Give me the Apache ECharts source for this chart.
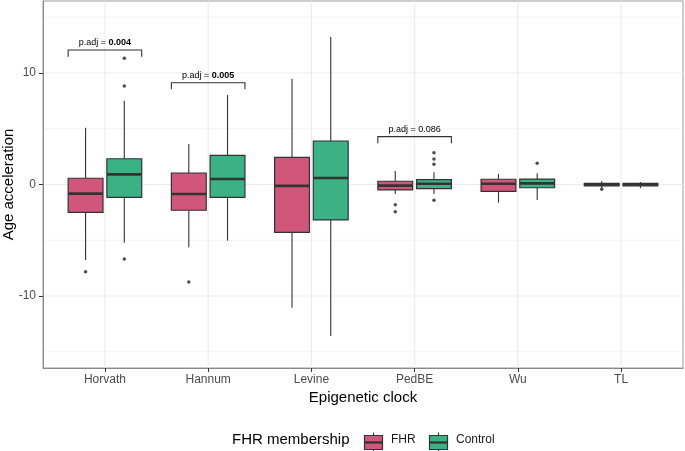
<!DOCTYPE html>
<html><head><meta charset="utf-8">
<script src="https://cdn.jsdelivr.net/npm/echarts@6/dist/echarts.min.js"></script>
<style>html,body{margin:0;padding:0;background:#fff}#c{width:685px;height:451px}</style>
</head><body><div id="c"></div>
<script>
// Categories
const clocks = ['Horvath', 'Hannum', 'Levine', 'PedBE', 'Wu', 'TL'];
// Box stats per clock: [lower whisker, Q1, median, Q3, upper whisker]
const fhrBoxes = [
  [-6.77, -2.50, -0.82, 0.56, 5.09],
  [-5.63, -2.31, -0.85, 1.03, 3.63],
  [-11.05, -4.29, -0.12, 2.44, 9.49],
  [-0.85, -0.49, -0.10, 0.29, 1.21],
  [-1.63, -0.61, 0.07, 0.47, 0.94],
  [-0.34, -0.12, 0.00, 0.10, 0.31]
];
const controlBoxes = [
  [-5.22, -1.15, 0.91, 2.31, 7.52],
  [-5.04, -1.15, 0.49, 2.62, 8.03],
  [-13.59, -3.18, 0.58, 3.90, 13.23],
  [-0.85, -0.37, 0.07, 0.43, 1.09],
  [-1.39, -0.29, 0.10, 0.49, 1.00],
  [-0.34, -0.12, 0.00, 0.10, 0.22]
];
// Outliers: [clock, value]
const fhrOutliers = [['Horvath', -7.82], ['Hannum', -8.74], ['PedBE', -1.81], ['PedBE', -2.44], ['TL', -0.43]];
const controlOutliers = [['Horvath', 11.32], ['Horvath', 8.83], ['Horvath', -6.68], ['PedBE', 2.85], ['PedBE', 2.29], ['PedBE', 1.81], ['PedBE', -1.42], ['Wu', 1.90]];
// Significance brackets: clock, bracket leg bottom, bracket top, p value, bold
const sigClocks = ['Horvath', 'Hannum', 'PedBE'];
const sigLegBottom = [11.46, 8.54, 3.69];
const sigTop = [12.06, 9.13, 4.29];
const sigP = ['0.004', '0.005', '0.086'];
const sigBold = [true, true, false];
// Axis ticks
const yMajorTicks = [-10, 0, 10];
const yMinorTicks = [-15, -5, 5, 15];
const yLimits = [-16.46, 16.46];

const FHR_COLOR = '#D0567C';
const CTRL_COLOR = '#3AB285';
const DODGE = 0.1875;
const BOXW = 0.3375;

const catIdx = name => clocks.indexOf(name) + 1;

function boxRender(offset, color) {
  return function (params, api) {
    const x = api.value(0) + offset;
    const pMin = api.coord([x, api.value(1)]);
    const pQ1 = api.coord([x, api.value(2)]);
    const pMed = api.coord([x, api.value(3)]);
    const pQ3 = api.coord([x, api.value(4)]);
    const pMax = api.coord([x, api.value(5)]);
    const left = api.coord([x - BOXW / 2, 0])[0];
    const right = api.coord([x + BOXW / 2, 0])[0];
    return {
      type: 'group',
      children: [
        { type: 'line', shape: { x1: pMin[0], y1: pMin[1], x2: pQ1[0], y2: pQ1[1] }, style: { stroke: '#333', lineWidth: 1.1 } },
        { type: 'line', shape: { x1: pQ3[0], y1: pQ3[1], x2: pMax[0], y2: pMax[1] }, style: { stroke: '#333', lineWidth: 1.1 } },
        { type: 'rect', shape: { x: left, y: pQ3[1], width: right - left, height: pQ1[1] - pQ3[1] }, style: { fill: color, stroke: '#333', lineWidth: 1.2 } },
        { type: 'line', shape: { x1: left, y1: pMed[1], x2: right, y2: pMed[1] }, style: { stroke: '#333', lineWidth: 2.6 } }
      ]
    };
  };
}

const gridData = []
  .concat(yMajorTicks.map(v => [0, v]))
  .concat(yMinorTicks.map(v => [1, v]))
  .concat(clocks.map((c, i) => [2, i + 1]));

function gridRender(params, api) {
  const cs = params.coordSys;
  const t = api.value(0), v = api.value(1);
  if (t === 2) {
    const x = api.coord([v, 0])[0];
    return { type: 'line', shape: { x1: x, y1: cs.y, x2: x, y2: cs.y + cs.height }, style: { stroke: '#EBEBEB', lineWidth: 1.1 } };
  }
  const y = api.coord([1, v])[1];
  return { type: 'line', shape: { x1: cs.x, y1: y, x2: cs.x + cs.width, y2: y }, style: { stroke: '#EBEBEB', lineWidth: t === 0 ? 1.1 : 0.6 } };
}

function sigRender(params, api) {
  const i = params.dataIndex;
  const c = api.value(0);
  const half = DODGE + BOXW / 2;
  const pl = api.coord([c - half, api.value(2)]);
  const pr = api.coord([c + half, api.value(2)]);
  const lb = api.coord([c, api.value(1)])[1];
  const tc = api.coord([c, api.value(2)]);
  return {
    type: 'group',
    children: [
      { type: 'polyline', shape: { points: [[pl[0], lb], [pl[0], pl[1]], [pr[0], pr[1]], [pr[0], lb]] }, style: { stroke: '#333', lineWidth: 1.1, fill: null } },
      { type: 'text', x: tc[0], y: tc[1] - 3, style: {
          text: '{n|p.adj = }{' + (sigBold[i] ? 'b' : 'n') + '|' + sigP[i] + '}',
          align: 'center', verticalAlign: 'bottom',
          rich: {
            n: { fontSize: 9, fontFamily: 'Liberation Sans, Arial', color: '#1a1a1a' },
            b: { fontSize: 9, fontFamily: 'Liberation Sans, Arial', color: '#1a1a1a', fontWeight: 'bold' }
          }
        } }
    ]
  };
}

const chart = echarts.init(document.getElementById('c'), null, { renderer: 'canvas' });
const legY = 440;
chart.setOption({
  animation: false,
  backgroundColor: '#fff',
  grid: { left: 43, right: 2, top: 1, bottom: 83, show: true, borderColor: '#9a9a9a', borderWidth: 1, backgroundColor: 'transparent', outerBoundsMode: 'none', containLabel: false },
  xAxis: {
    type: 'value', min: 0.4, max: 6.6,
    name: 'Epigenetic clock', nameLocation: 'middle', nameGap: 22, nameMoveOverlap: false,
    nameTextStyle: { fontSize: 15, color: '#000', fontFamily: 'Liberation Sans, Arial' },
    axisLine: { show: true, onZero: false, lineStyle: { color: '#8a8a8a', width: 1 } },
    axisTick: { show: true, length: 4, lineStyle: { color: '#333' }, customValues: clocks.map((c, i) => i + 1) },
    axisLabel: { customValues: clocks.map((c, i) => i + 1), formatter: v => clocks[Math.round(v) - 1] || '', color: '#4d4d4d', fontSize: 12, margin: 6, fontFamily: 'Liberation Sans, Arial' },
    splitLine: { show: false }
  },
  yAxis: {
    type: 'value', min: yLimits[0], max: yLimits[1],
    name: 'Age acceleration', nameLocation: 'middle', nameGap: 27, nameRotate: 90, nameMoveOverlap: false,
    nameTextStyle: { fontSize: 15, color: '#000', fontFamily: 'Liberation Sans, Arial' },
    axisLine: { show: true, onZero: false, lineStyle: { color: '#8a8a8a', width: 1 } },
    axisTick: { show: true, length: 4, lineStyle: { color: '#333' }, customValues: yMajorTicks },
    axisLabel: { customValues: yMajorTicks, color: '#4d4d4d', fontSize: 12, margin: 7, fontFamily: 'Liberation Sans, Arial' },
    splitLine: { show: false }
  },
  series: [
    { type: 'custom', name: 'grid', renderItem: gridRender, data: gridData, silent: true, z: 0, clip: true },
    { type: 'custom', name: 'FHR', renderItem: boxRender(-DODGE, FHR_COLOR), data: fhrBoxes.map((b, i) => [i + 1].concat(b)), encode: { x: 0, y: [1, 2, 3, 4, 5] }, z: 2 },
    { type: 'custom', name: 'Control', renderItem: boxRender(DODGE, CTRL_COLOR), data: controlBoxes.map((b, i) => [i + 1].concat(b)), encode: { x: 0, y: [1, 2, 3, 4, 5] }, z: 2 },
    { type: 'scatter', name: 'FHR outliers', data: fhrOutliers.map(o => [catIdx(o[0]) - DODGE, o[1]]), symbolSize: 3.5, itemStyle: { color: '#222' }, z: 3 },
    { type: 'scatter', name: 'Control outliers', data: controlOutliers.map(o => [catIdx(o[0]) + DODGE, o[1]]), symbolSize: 3.5, itemStyle: { color: '#222' }, z: 3 },
    { type: 'custom', name: 'sig', renderItem: sigRender, data: sigClocks.map((c, i) => [catIdx(c), sigLegBottom[i], sigTop[i]]), encode: { x: 0, y: [1, 2] }, z: 4 }
  ],
  graphic: [
    { type: 'text', left: 232, top: legY - 8, style: { text: 'FHR membership', fontSize: 15, fill: '#000', fontFamily: 'Liberation Sans, Arial' } },
    { type: 'group', left: 362, top: legY - 10, children: [
      { type: 'line', shape: { x1: 9, y1: 0, x2: 9, y2: 20 }, style: { stroke: '#333', lineWidth: 1.1 } },
      { type: 'rect', shape: { x: 0, y: 3, width: 18, height: 14 }, style: { fill: FHR_COLOR, stroke: '#333', lineWidth: 1.2 } },
      { type: 'line', shape: { x1: 0, y1: 10, x2: 18, y2: 10 }, style: { stroke: '#333', lineWidth: 2.2 } }
    ] },
    { type: 'text', left: 391, top: legY - 6, style: { text: 'FHR', fontSize: 12, fill: '#1a1a1a', fontFamily: 'Liberation Sans, Arial' } },
    { type: 'group', left: 427, top: legY - 10, children: [
      { type: 'line', shape: { x1: 9, y1: 0, x2: 9, y2: 20 }, style: { stroke: '#333', lineWidth: 1.1 } },
      { type: 'rect', shape: { x: 0, y: 3, width: 18, height: 14 }, style: { fill: CTRL_COLOR, stroke: '#333', lineWidth: 1.2 } },
      { type: 'line', shape: { x1: 0, y1: 10, x2: 18, y2: 10 }, style: { stroke: '#333', lineWidth: 2.2 } }
    ] },
    { type: 'text', left: 456, top: legY - 6, style: { text: 'Control', fontSize: 12, fill: '#1a1a1a', fontFamily: 'Liberation Sans, Arial' } }
  ]
});
</script></body></html>
